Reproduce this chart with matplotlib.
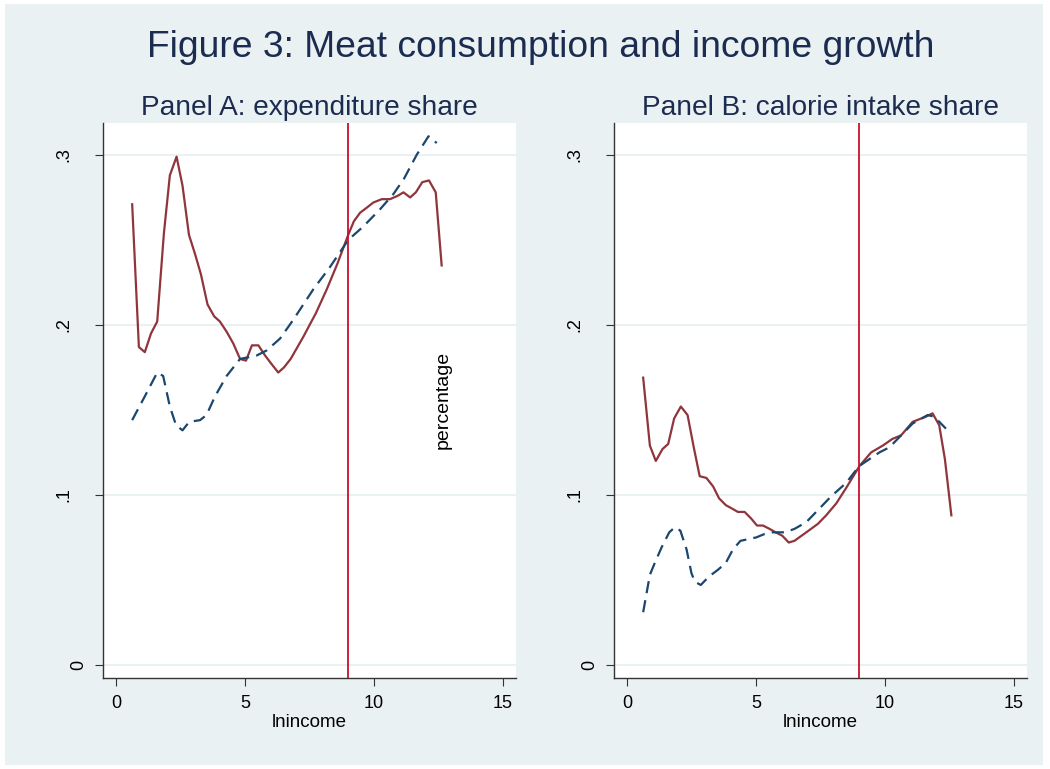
import matplotlib
matplotlib.use("Agg")
import matplotlib.pyplot as plt
from matplotlib.patches import Rectangle

plt.rcParams['font.family'] = ['Liberation Sans', 'DejaVu Sans']

# Panel A: expenditure share
a_red_x = [0.63, 0.89, 1.12, 1.36, 1.60, 1.86, 2.09, 2.35, 2.58, 2.83, 3.06, 3.29,
           3.55, 3.81, 4.03, 4.29, 4.55, 4.81, 5.04, 5.27, 5.52, 5.78, 6.03, 6.29,
           6.51, 6.77, 7.26, 7.75, 8.17, 8.58, 9.00, 9.22, 9.46, 9.72, 9.97, 10.30,
           10.62, 10.92, 11.14, 11.40, 11.62, 11.87, 12.13, 12.39, 12.62]
a_red_y = [0.271, 0.187, 0.184, 0.195, 0.202, 0.254, 0.288, 0.299, 0.282, 0.253, 0.242, 0.230,
           0.212, 0.205, 0.202, 0.196, 0.189, 0.180, 0.179, 0.188, 0.188, 0.182, 0.177, 0.172,
           0.175, 0.180, 0.193, 0.207, 0.221, 0.236, 0.253, 0.261, 0.266, 0.269, 0.272, 0.274,
           0.274, 0.276, 0.278, 0.275, 0.278, 0.284, 0.285, 0.278, 0.235]
a_blue_x = [0.63, 1.12, 1.60, 1.83, 2.09, 2.33, 2.58, 2.84, 3.26, 3.51, 3.84, 4.29,
            4.81, 5.45, 5.84, 6.36, 6.87, 7.65, 8.29, 9.00, 9.59, 10.23, 10.75, 11.16,
            11.65, 12.11, 12.43]
a_blue_y = [0.144, 0.158, 0.172, 0.170, 0.152, 0.141, 0.138, 0.143, 0.144, 0.147, 0.158, 0.170,
            0.180, 0.182, 0.185, 0.192, 0.203, 0.221, 0.234, 0.250, 0.258, 0.268, 0.277, 0.286,
            0.300, 0.311, 0.307]

# Panel B: calorie intake share
b_red_x = [0.63, 0.89, 1.12, 1.38, 1.60, 1.83, 2.09, 2.35, 2.59, 2.82, 3.08, 3.34,
           3.57, 3.83, 4.07, 4.30, 4.56, 4.82, 5.04, 5.27, 5.53, 5.76, 6.02, 6.27,
           6.49, 6.95, 7.40, 7.72, 8.11, 8.49, 9.01, 9.46, 9.91, 10.29, 10.62, 11.07,
           11.58, 11.84, 12.10, 12.32, 12.57]
b_red_y = [0.169, 0.129, 0.120, 0.127, 0.130, 0.145, 0.152, 0.147, 0.128, 0.111, 0.110, 0.105,
           0.098, 0.094, 0.092, 0.090, 0.090, 0.086, 0.082, 0.082, 0.080, 0.078, 0.076, 0.072,
           0.073, 0.078, 0.083, 0.088, 0.095, 0.104, 0.117, 0.125, 0.129, 0.133, 0.135, 0.143,
           0.146, 0.148, 0.141, 0.121, 0.088]
b_blue_x = [0.63, 0.89, 1.08, 1.34, 1.64, 1.86, 2.07, 2.31, 2.50, 2.63, 2.86, 3.18,
            3.53, 3.83, 4.11, 4.40, 5.01, 5.33, 5.65, 6.11, 6.49, 6.95, 7.46, 7.90,
            8.49, 9.00, 9.39, 9.78, 10.17, 10.62, 11.07, 11.65, 11.91, 12.36]
b_blue_y = [0.031, 0.053, 0.060, 0.069, 0.078, 0.081, 0.079, 0.068, 0.054, 0.049, 0.047, 0.052,
            0.056, 0.060, 0.068, 0.073, 0.075, 0.077, 0.078, 0.078, 0.080, 0.084, 0.092, 0.099,
            0.107, 0.117, 0.121, 0.125, 0.128, 0.135, 0.142, 0.147, 0.146, 0.139]

vline_x = 9
yticks = [0, 0.1, 0.2, 0.3]
ytick_labels = ['0', '.1', '.2', '.3']
xticks = [0, 5, 10, 15]
panel_titles = ['Panel A: expenditure share', 'Panel B: calorie intake share']

bg = '#EAF1F3'
navy = '#1A476F'
maroon = '#90353B'
vred = '#C8102E'
title_col = '#1C2B50'

W, H = 1050, 769
fig = plt.figure(figsize=(W / 100, H / 100), dpi=100)
fig.patch.set_facecolor('white')
fig.patches.append(Rectangle((5 / W, 1 - 765 / H), 1038 / W, 761 / H,
                             transform=fig.transFigure, facecolor=bg,
                             edgecolor='none', zorder=-5))

fig.text(541 / W, 1 - 57 / H, 'Figure 3: Meat consumption and income growth',
         ha='center', va='baseline', fontsize=26.8, color=title_col)


def make_panel(left, right, red_x, red_y, blue_x, blue_y, title):
    ax = fig.add_axes([left / W, 1 - 678 / H, (right - left) / W, (678 - 123) / H])
    ax.set_zorder(1)
    ax.set_facecolor('white')
    ax.set_xlim(-0.5, 15.5)
    ax.set_ylim(-0.0077, 0.3188)
    for s in ['top', 'right']:
        ax.spines[s].set_visible(False)
    for s in ['left', 'bottom']:
        ax.spines[s].set_color('#333333')
        ax.spines[s].set_linewidth(1.0)
    ax.set_yticks(yticks)
    ax.set_yticklabels(ytick_labels, rotation=90, va='center')
    ax.set_xticks(xticks)
    ax.tick_params(axis='y', length=6, pad=16, labelsize=13, color='#333333')
    ax.tick_params(axis='x', length=6, pad=6.5, labelsize=13, color='#333333')
    # the "0" label sits closer to the axis in the original
    ax.yaxis.get_major_ticks()[0].set_pad(5)
    ax.grid(axis='y', color=bg, linewidth=1.5)
    ax.set_axisbelow(True)
    ax.plot(red_x, red_y, color=maroon, linewidth=1.6, zorder=3)
    ax.plot(blue_x, blue_y, color=navy, linewidth=1.6, dashes=(5.5, 3.2), zorder=3)
    ax.axvline(vline_x, color=vred, linewidth=1.3, zorder=4)
    ax.set_xlabel('lnincome', fontsize=13.5, labelpad=1)
    ax.set_title(title, fontsize=20.2, color=title_col, pad=6)
    return ax


ax_a = make_panel(103, 516, a_red_x, a_red_y, a_blue_x, a_blue_y, panel_titles[0])
ax_a.text(12.67, 0.156, 'percentage', rotation=90, ha='center', va='center', fontsize=14)
ax_b = make_panel(614, 1027, b_red_x, b_red_y, b_blue_x, b_blue_y, panel_titles[1])

fig.savefig('out.png', dpi=100, facecolor=fig.get_facecolor())
